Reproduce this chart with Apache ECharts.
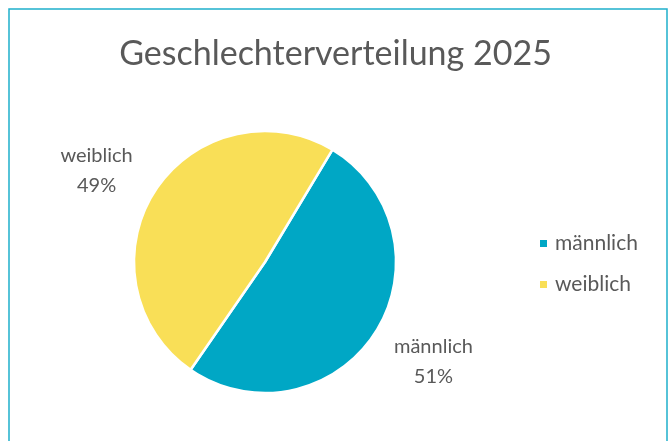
<!DOCTYPE html>
<html style="height: 100%">
<head>
    <meta charset="utf-8">
</head>
<body style="height: 100%; margin: 0">
    <div id="container" style="width: 671px; height: 441px"></div>
    <script type="text/javascript" src="https://cdn.jsdelivr.net/npm/echarts@6/dist/echarts.min.js"></script>
    <script type="text/javascript">
var titleText = 'Geschlechterverteilung 2025';
var categories = ['männlich', 'weiblich'];
var shares = [51, 49];
var colors = ['#00A7C5', '#F9DF57'];

var dom = document.getElementById("container");
var myChart = echarts.init(dom);
var fontFam = 'Lato, "Open Sans", sans-serif';
var textGrey = '#595959';

var pieData = categories.map(function (name, i) {
    return { name: name, value: shares[i], itemStyle: { color: colors[i] } };
});

var option = {
    backgroundColor: '#fff',
    title: {
        text: titleText,
        left: 'center',
        top: 32,
        textStyle: {
            fontFamily: fontFam,
            fontWeight: 'normal',
            fontSize: 34,
            color: textGrey
        }
    },
    legend: {
        orient: 'vertical',
        left: 533,
        top: 228,
        itemGap: 20,
        itemWidth: 9,
        itemHeight: 9,
        icon: 'rect',
        data: categories,
        textStyle: {
            fontFamily: fontFam,
            fontSize: 21,
            color: textGrey,
            padding: [0, 0, 0, 2]
        }
    },
    graphic: [{
        type: 'rect',
        shape: { x: 9, y: 9, width: 658, height: 460 },
        style: { fill: 'none', stroke: '#1FB0CB', lineWidth: 1.5 },
        silent: true
    }],
    series: [{
        type: 'pie',
        center: [265, 262],
        radius: 131,
        startAngle: 59,
        clockwise: true,
        avoidLabelOverlap: false,
        data: pieData,
        itemStyle: { borderColor: '#fff', borderWidth: 2.5 },
        labelLine: { show: false, length: 42, length2: 0 },
        label: {
            position: 'outside',
            distanceToLabelLine: 0,
            formatter: '{a|{b}}\n{a|{d}%}',
            rich: {
                a: {
                    width: 46,
                    align: 'center',
                    fontFamily: fontFam,
                    fontSize: 20,
                    lineHeight: 30,
                    color: textGrey
                }
            }
        },
        labelLayout: function (params) {
            // männlich label sits a bit lower than the mirrored position
            return params.dataIndex === 0 ? { dy: 6 } : { dy: 2 };
        },
        emphasis: { disabled: true }
    }]
};
myChart.setOption(option);
</script>
</body>
</html>
